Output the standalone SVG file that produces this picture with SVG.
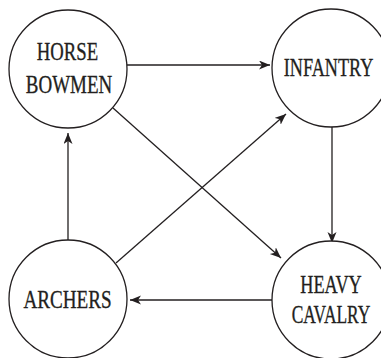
<svg xmlns="http://www.w3.org/2000/svg" width="381" height="358" viewBox="0 0 381 358">
<style>
.node{fill:#fff;stroke:#231f20;stroke-width:1.3}
.lbl{font-family:"Liberation Serif","DejaVu Serif",serif;font-size:26px;fill:#231f20;text-anchor:middle;stroke:#231f20;stroke-width:0.35}
.edge{stroke:#231f20;stroke-width:1.3;fill:none;marker-end:url(#arr)}
</style>
<defs>
<marker id="arr" markerUnits="userSpaceOnUse" markerWidth="12" markerHeight="10" refX="11" refY="4.5" orient="auto">
<path d="M0,0 L11,4.5 L0,9 L3,4.5 z" fill="#231f20"/>
</marker>
</defs>
<rect width="381" height="358" fill="#fff"/>
<g id="connectors">
<line class="edge" x1="127" y1="65" x2="270" y2="65"/>
<line class="edge" x1="113" y1="108" x2="281" y2="258"/>
<line class="edge" x1="332" y1="127" x2="332" y2="243"/>
<line class="edge" x1="272" y1="300" x2="130" y2="300"/>
<line class="edge" x1="68" y1="241" x2="68" y2="133"/>
<line class="edge" x1="116" y1="263" x2="286" y2="114"/>
</g>
<g id="horse-bowmen">
<circle class="node" cx="68" cy="69" r="59"/>
<text class="lbl" transform="matrix(0.72 0 0 1 67.5 60)">HORSE</text>
<text class="lbl" transform="matrix(0.73 0 0 1 69 93)">BOWMEN</text>
</g>
<g id="infantry">
<circle class="node" cx="331" cy="68" r="59"/>
<text class="lbl" transform="matrix(0.7 0 0 1 328.5 76)">INFANTRY</text>
</g>
<g id="archers">
<circle class="node" cx="68" cy="299" r="59"/>
<text class="lbl" transform="matrix(0.735 0 0 1 67.5 308)">ARCHERS</text>
</g>
<g id="heavy-cavalry">
<circle class="node" cx="331" cy="300" r="59"/>
<text class="lbl" transform="matrix(0.7 0 0 1 331 293)">HEAVY</text>
<text class="lbl" transform="matrix(0.67 0 0 1 331 323)">CAVALRY</text>
</g>
</svg>
